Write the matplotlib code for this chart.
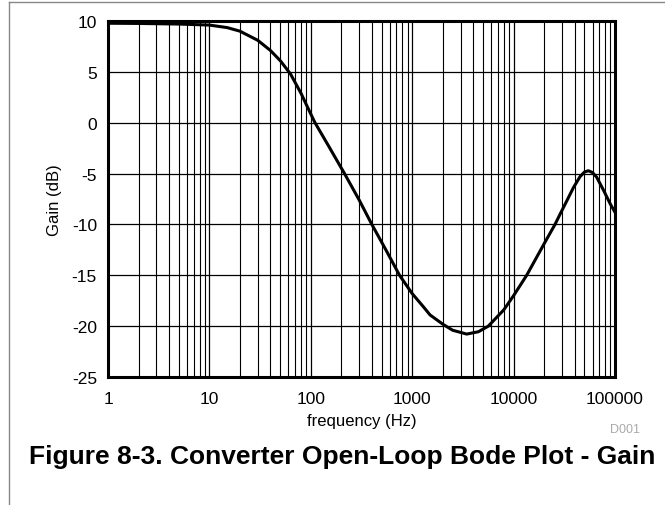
import matplotlib
matplotlib.use('Agg')
import matplotlib.pyplot as plt
from matplotlib.lines import Line2D
from matplotlib.ticker import FixedLocator, LogLocator, NullFormatter

plt.rcParams['font.family'] = ['Liberation Sans', 'DejaVu Sans']
plt.rcParams['axes.unicode_minus'] = False

# gain curve
freq = [1, 2, 5, 10, 15, 20, 30, 40, 50, 63, 80, 100, 110, 150, 215, 300, 400,
        550, 750, 1000, 1290, 1500, 2000, 2500, 3450, 4500, 5630, 8000, 10000,
        13460, 20000, 25600, 28700, 33400, 38800, 45200, 50000, 54600, 60000,
        65900, 76700, 90000, 100000]
gain = [9.78, 9.76, 9.7, 9.6, 9.35, 9.0, 8.1, 7.1, 6.1, 4.8, 2.9, 0.85, 0.0,
        -2.3, -5.0, -7.6, -10.0, -12.5, -15.0, -16.8, -18.1, -18.9, -19.8,
        -20.4, -20.78, -20.55, -20.0, -18.4, -17.0, -15.0, -11.9, -10.0, -9.0,
        -7.7, -6.4, -5.3, -4.85, -4.72, -4.9, -5.35, -6.6, -8.0, -8.8]

x_ticks = [1, 10, 100, 1000, 10000, 100000]
x_labels = ['1', '10', '100', '1000', '10000', '100000']
y_ticks = [-25, -20, -15, -10, -5, 0, 5, 10]

fig = plt.figure(figsize=(6.65, 5.06), dpi=100)
ax = fig.add_axes([108 / 665, 1 - 378 / 506, 507 / 665, 356 / 506])

ax.plot(freq, gain, color='black', linewidth=2.2, zorder=3)

ax.set_xscale('log')
ax.set_xlim(1, 100000)
ax.set_ylim(-25, 10)
ax.xaxis.set_major_locator(FixedLocator(x_ticks))
ax.set_xticklabels(x_labels)
ax.xaxis.set_minor_locator(LogLocator(base=10, subs=range(2, 10), numticks=20))
ax.xaxis.set_minor_formatter(NullFormatter())
ax.set_yticks(y_ticks)

ax.grid(True, which='major', color='black', linewidth=0.9)
ax.grid(True, which='minor', axis='x', color='black', linewidth=0.8)
ax.tick_params(which='both', length=0, labelsize=12.5)
ax.tick_params(axis='x', pad=10)
ax.tick_params(axis='y', pad=8)

for s in ax.spines.values():
    s.set_linewidth(2.2)

ax.set_xlabel('frequency (Hz)', fontsize=12, labelpad=5)
ax.set_ylabel('Gain (dB)', fontsize=12, labelpad=7)

fig.text(342 / 665, 1 - 457 / 506,
         'Figure 8-3. Converter Open-Loop Bode Plot - Gain',
         ha='center', va='center', fontsize=19, fontweight='bold')
fig.text(640 / 665, 1 - 430 / 506, 'D001', ha='right', va='center',
         fontsize=9, color='#aaaaaa')

# outer frame (left and top edges)
fig.add_artist(Line2D([9 / 665, 9 / 665], [0, 1 - 2.5 / 506],
                      transform=fig.transFigure, color='#888888', linewidth=1))
fig.add_artist(Line2D([9 / 665, 1], [1 - 2.5 / 506, 1 - 2.5 / 506],
                      transform=fig.transFigure, color='#888888', linewidth=1))

fig.savefig('out.png', dpi=100)
